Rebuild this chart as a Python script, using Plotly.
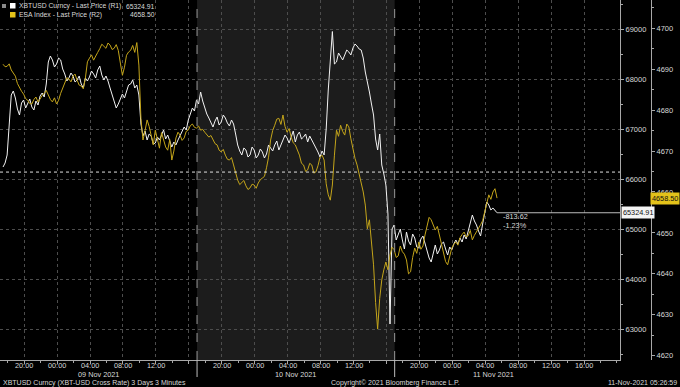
import plotly.graph_objects as go
import pandas as pd

# ---------------- data ----------------
start_time = "2021-11-08 17:26"
n_points = 241
times = pd.date_range(start_time, periods=n_points, freq="15min")

xbt_values = [
    66240, 66320, 66480, 67100, 67680, 67760, 67620, 67400, 67280, 67520,
    67580, 67420, 67500, 67600, 67440, 67380, 67560, 67480, 67660, 67720,
    67640, 67900, 68340, 68460, 68380, 68240, 68300, 68420, 68380, 68200,
    68100, 67960, 68020, 68120, 68060, 67940, 67980, 68060, 67900, 67820,
    68020, 67960, 68040, 68160, 68100, 68020, 68180, 68260, 68080, 67980,
    68060, 67960, 67820, 67700, 67580, 67420, 67500, 67600, 67700, 67620,
    67780, 67880, 67900, 67980, 67820, 67880, 67680, 67100, 66860, 66960,
    66780, 66900, 66860, 66700, 66720, 66840, 66780, 66900, 66980, 66800,
    66880, 66760, 66640, 66740, 66680, 66780, 66860, 66940, 67040, 66980,
    67180, 67300, 67420, 67360, 67580, 67500, 67740, 67560, 67420, 67300,
    67220, 67120, 67040, 67160, 67240, 67080, 67140, 67280, 67220, 67120,
    67060, 67180, 67100, 66900, 66680, 66560, 66480, 66620, 66580, 66440,
    66480, 66640, 66580, 66420, 66480, 66600, 66540, 66420, 66500, 66680,
    66620, 66560, 66680, 66760, 66580, 66700, 66780, 66880, 66820, 66720,
    66860, 66960, 66740, 66880, 66940, 66800, 66840, 66900, 66740, 66860,
    66780, 66700, 66640, 66540, 66440, 66560, 66480, 67000, 67780, 68400,
    68950, 68300, 68340, 68520, 68440, 68380, 68480, 68580, 68540, 68480,
    68620, 68700, 68660, 68600, 68580, 68420, 68140, 67960, 67740, 67500,
    67280, 66800, 66580, 66900, 66280, 66100, 65880, 65300, 63100, 65000,
    65080, 64780, 64880, 65000, 64780, 64600, 64940, 64760, 64680, 64900,
    64820, 64640, 64620, 64800, 64860, 64700, 64580, 64420, 64340, 64520,
    64680, 64500, 64580, 64700, 64740, 64600, 64480, 64640, 64580, 64700,
    64780, 64700, 64820, 64740, 64880, 64800, 64980, 65120, 65280, 65160,
    65080, 64960, 64860, 65100, 65340, 65540, 65480, 65380, 65420, 65360,
    65324.91,
]

esa_values = [
    4691.2, 4690.6, 4690.7, 4691.3, 4689.8, 4689.0, 4688.3, 4686.5, 4685.4, 4684.6,
    4683.9, 4682.8, 4682.4, 4681.6, 4681.5, 4682.6, 4683.2, 4682.0, 4682.7, 4683.6,
    4684.1, 4684.8, 4683.7, 4682.6, 4682.0, 4683.0, 4681.5, 4682.4, 4684.1, 4685.5,
    4686.8, 4687.9, 4687.6, 4686.9, 4688.3, 4688.8, 4687.3, 4686.1, 4685.9, 4685.2,
    4687.8, 4691.8, 4692.7, 4693.5, 4692.2, 4693.0, 4694.1, 4695.0, 4696.1, 4695.6,
    4695.1, 4696.4, 4695.9, 4694.8, 4695.1, 4696.0, 4694.6, 4691.5, 4688.5, 4690.5,
    4693.4, 4694.2, 4694.6, 4695.8, 4694.1, 4696.5, 4691.0, 4678.0, 4672.7, 4675.0,
    4677.6, 4676.0, 4673.9, 4671.5, 4675.1, 4672.5, 4670.7, 4674.5, 4672.7, 4671.0,
    4670.2, 4672.8, 4667.8, 4670.0, 4673.2, 4674.6, 4673.9, 4672.6, 4673.2, 4674.8,
    4675.1, 4676.2, 4676.6, 4675.8, 4675.6, 4676.1, 4675.1, 4675.3, 4674.6, 4674.0,
    4673.4, 4673.8, 4672.7, 4671.8, 4671.5, 4670.2, 4669.8, 4670.4, 4669.0, 4668.0,
    4667.8, 4668.4, 4666.6, 4664.5, 4662.9, 4661.8, 4662.2, 4662.8, 4661.5, 4660.6,
    4661.0, 4661.9, 4661.7, 4660.9, 4662.2, 4663.0, 4663.4, 4663.8, 4665.9, 4668.5,
    4672.7, 4675.0, 4676.3, 4677.8, 4678.0, 4676.5, 4678.8, 4676.0, 4674.6, 4675.5,
    4673.4, 4672.0, 4671.5, 4670.4, 4669.0, 4667.0, 4666.6, 4665.0, 4665.4, 4667.0,
    4666.6, 4664.6, 4664.9, 4666.4, 4668.5, 4669.0, 4667.8, 4662.0, 4659.3, 4658.0,
    4661.7, 4669.0, 4675.1, 4673.6, 4676.3, 4674.8, 4673.9, 4676.6, 4675.9, 4673.0,
    4670.2, 4668.2, 4666.6, 4664.4, 4662.2, 4660.0, 4656.8, 4651.0, 4653.2, 4648.0,
    4642.2, 4633.0, 4626.5, 4634.0, 4638.5, 4641.0, 4642.9, 4641.0, 4644.6, 4646.5,
    4645.9, 4644.0, 4644.4, 4646.8, 4645.4, 4644.8, 4643.4, 4640.0, 4640.5, 4644.0,
    4646.3, 4645.0, 4647.8, 4646.0, 4646.8, 4649.5, 4652.0, 4653.8, 4653.2, 4651.8,
    4650.7, 4651.6, 4649.3, 4647.0, 4644.6, 4643.0, 4642.2, 4644.5, 4646.3, 4647.2,
    4647.8, 4647.0, 4648.8, 4649.6, 4650.2, 4649.0, 4649.3, 4650.6, 4648.3, 4649.4,
    4650.2, 4651.2, 4652.0, 4653.0, 4655.1, 4657.5, 4659.3, 4658.2, 4660.0, 4660.8,
    4658.5,
]

xbt_last = 65324.91
esa_last = 4658.50
xbt_change = "-813.62"
xbt_change_pct = "-1.23%"
xbt_reference = 66138.53

x_tick_vals = [
    "2021-11-08 20:00", "2021-11-09 00:00", "2021-11-09 04:00", "2021-11-09 08:00",
    "2021-11-09 12:00", "2021-11-09 16:00", "2021-11-09 20:00", "2021-11-10 00:00",
    "2021-11-10 04:00", "2021-11-10 08:00", "2021-11-10 12:00", "2021-11-10 16:00",
    "2021-11-10 20:00", "2021-11-11 00:00", "2021-11-11 04:00", "2021-11-11 08:00",
    "2021-11-11 12:00", "2021-11-11 16:00",
]
x_tick_text = [
    "20:00", "00:00", "04:00", "08:00", "12:00", "", "20:00", "00:00",
    "04:00", "08:00", "12:00", "", "20:00", "00:00", "04:00", "08:00",
    "12:00", "16:00",
]
day_labels = ["09 Nov 2021", "10 Nov 2021", "11 Nov 2021"]
day_label_pos = ["2021-11-09 05:00", "2021-11-10 05:00", "2021-11-11 05:00"]
session_bounds = ["2021-11-09 17:00", "2021-11-10 17:00"]
x_range = ["2021-11-08 17:04", "2021-11-11 20:22"]

r1_ticks = [63000, 64000, 65000, 66000, 67000, 68000, 69000]
r2_ticks = [4620, 4630, 4640, 4650, 4660, 4670, 4680, 4690, 4700]

legend_names = ["XBTUSD Curncy - Last Price (R1)", "ESA Index - Last Price (R2)"]
footer_left = "XBTUSD Curncy (XBT-USD Cross Rate) 3 Days 3 Minutes"
footer_mid = "Copyright\u00a9 2021 Bloomberg Finance L.P."
footer_right = "11-Nov-2021 05:26:59"

# ---------------- style ----------------
W, H = 680, 387
FONT = "Liberation Sans Narrow, Arial Narrow, Liberation Sans, Arial, sans-serif"
WHITE = "#f2f2f2"
YELLOW = "#c4a51a"
YELLOW_BOX = "#e3c21a"
TXT = "#d8d8d8"
AXIS = "#a8a8a8"
GRID = "#4d4d4d"
plot_right = 620
axis2_x = 651
plot_bottom = 360


def px(x):
    return x / W


def py(y):
    return 1 - y / H


fig = go.Figure()
fig.add_trace(go.Scatter(x=times, y=esa_values, mode="lines", yaxis="y2",
                         line=dict(color=YELLOW, width=1), hoverinfo="skip"))
fig.add_trace(go.Scatter(x=times, y=xbt_values, mode="lines", yaxis="y",
                         line=dict(color=WHITE, width=1), hoverinfo="skip"))

shapes = []
shapes.append(dict(type="rect", xref="x", yref="paper", x0=session_bounds[0], x1=session_bounds[1],
                   y0=py(plot_bottom), y1=1, fillcolor="#1c1c1c", line=dict(width=0), layer="below"))
for b in session_bounds:
    shapes.append(dict(type="line", xref="x", yref="paper", x0=b, x1=b, y0=py(plot_bottom), y1=1,
                       line=dict(color="#9a9a9a", width=1, dash="dash"), layer="above"))
    shapes.append(dict(type="line", xref="x", yref="paper", x0=b, x1=b, y0=py(377), y1=py(plot_bottom),
                       line=dict(color="#bdbdbd", width=1), layer="above"))
shapes.append(dict(type="line", xref="paper", yref="y", x0=0, x1=px(plot_right),
                   y0=xbt_reference, y1=xbt_reference,
                   line=dict(color="#e0e0e0", width=1, dash="dot"), layer="above"))
shapes.append(dict(type="line", xref="x", yref="y", x0=times[-1], x1=x_range[1],
                   y0=xbt_last, y1=xbt_last, line=dict(color="#bcbcbc", width=1), layer="above"))
shapes.append(dict(type="rect", xref="paper", yref="paper", x0=px(2), x1=px(6), y0=py(8), y1=py(4),
                   fillcolor="#8a8a8a", line=dict(width=0)))
shapes.append(dict(type="rect", xref="paper", yref="paper", x0=px(10), x1=px(15.5), y0=py(8.5), y1=py(3),
                   fillcolor="#ffffff", line=dict(width=0)))
shapes.append(dict(type="rect", xref="paper", yref="paper", x0=px(10), x1=px(15.5), y0=py(17.5), y1=py(12),
                   fillcolor=YELLOW_BOX, line=dict(width=0)))


def txt(x, y, text, anchor="left", size=7.3, color=TXT, xref="paper", yref="paper", **kw):
    return dict(xref=xref, yref=yref, x=x, y=y, text=text, showarrow=False,
                xanchor=anchor, yanchor="middle", font=dict(family=FONT, size=size, color=color), **kw)


annotations = [
    txt(px(17), py(6), legend_names[0], size=6.8),
    txt(px(17), py(15), legend_names[1], size=6.8),
    txt(px(157), py(6), f"{xbt_last:.2f}", anchor="right", size=6.8),
    txt(px(157), py(15), f"{esa_last:.2f}", anchor="right", size=6.8),
]
for v, t in zip(x_tick_vals, x_tick_text):
    if t:
        annotations.append(txt(v, py(365.5), t, anchor="center", size=7.3, xref="x"))
for lab, pos in zip(day_labels, day_label_pos):
    annotations.append(txt(pos, py(374.5), lab, anchor="center", size=7.3, xref="x"))
annotations += [
    txt(px(1), py(382.5), footer_left, size=7),
    txt(px(329), py(382.5), footer_mid, size=7),
    txt(px(679), py(382.5), footer_right, anchor="right", size=7),
    txt(px(501), py(217), xbt_change, size=7.3),
    txt(px(501), py(225), xbt_change_pct, size=7.3),
    txt(px(621), xbt_last, f"{xbt_last:.2f}", size=7.3, color="#111111", yref="y",
        bgcolor="#f4f4f4", borderpad=1),
    txt(px(680), esa_last, f"{esa_last:.2f}", anchor="right", size=7.3, color="#111111", yref="y2",
        bgcolor=YELLOW_BOX, borderpad=1),
]

fig.update_layout(
    width=W, height=H, margin=dict(l=0, r=0, t=0, b=0),
    paper_bgcolor="black", plot_bgcolor="black", showlegend=False,
    shapes=shapes, annotations=annotations,
    xaxis=dict(
        domain=[0, px(plot_right)], type="date", range=x_range,
        tickmode="array", tickvals=x_tick_vals, showticklabels=False,
        showgrid=True, gridcolor=GRID, griddash="dot", gridwidth=1,
        showline=True, linecolor=AXIS, linewidth=1, zeroline=False,
        ticks="outside", ticklen=3, tickcolor=AXIS,
        minor=dict(ticks="outside", ticklen=2, tickcolor=AXIS,
                   tick0="2021-11-08 18:00", dtick=2 * 3600 * 1000, showgrid=False),
        fixedrange=True,
    ),
    yaxis=dict(
        domain=[py(plot_bottom), 1], range=[62380, 69580], side="right",
        tickmode="array", tickvals=r1_ticks, ticktext=[str(v) for v in r1_ticks],
        showgrid=True, gridcolor=GRID, griddash="dot", gridwidth=1,
        showline=True, linecolor=AXIS, linewidth=1, zeroline=False,
        ticks="outside", ticklen=3, tickcolor=AXIS,
        tickfont=dict(family=FONT, size=7.5, color=TXT),
        minor=dict(ticks="outside", ticklen=2, tickcolor=AXIS, tick0=62500, dtick=1000, showgrid=False),
        fixedrange=True,
    ),
    yaxis2=dict(
        overlaying="y", anchor="free", position=px(axis2_x), side="right",
        range=[4618.95, 4706.9],
        tickmode="array", tickvals=r2_ticks, ticktext=[str(v) for v in r2_ticks],
        showgrid=False, showline=True, linecolor=AXIS, linewidth=1, zeroline=False,
        ticks="outside", ticklen=3, tickcolor=AXIS,
        tickfont=dict(family=FONT, size=7.5, color=TXT),
        minor=dict(ticks="outside", ticklen=2, tickcolor=AXIS, tick0=4615, dtick=10, showgrid=False),
        fixedrange=True,
    ),
)

fig.write_html("out.html")
